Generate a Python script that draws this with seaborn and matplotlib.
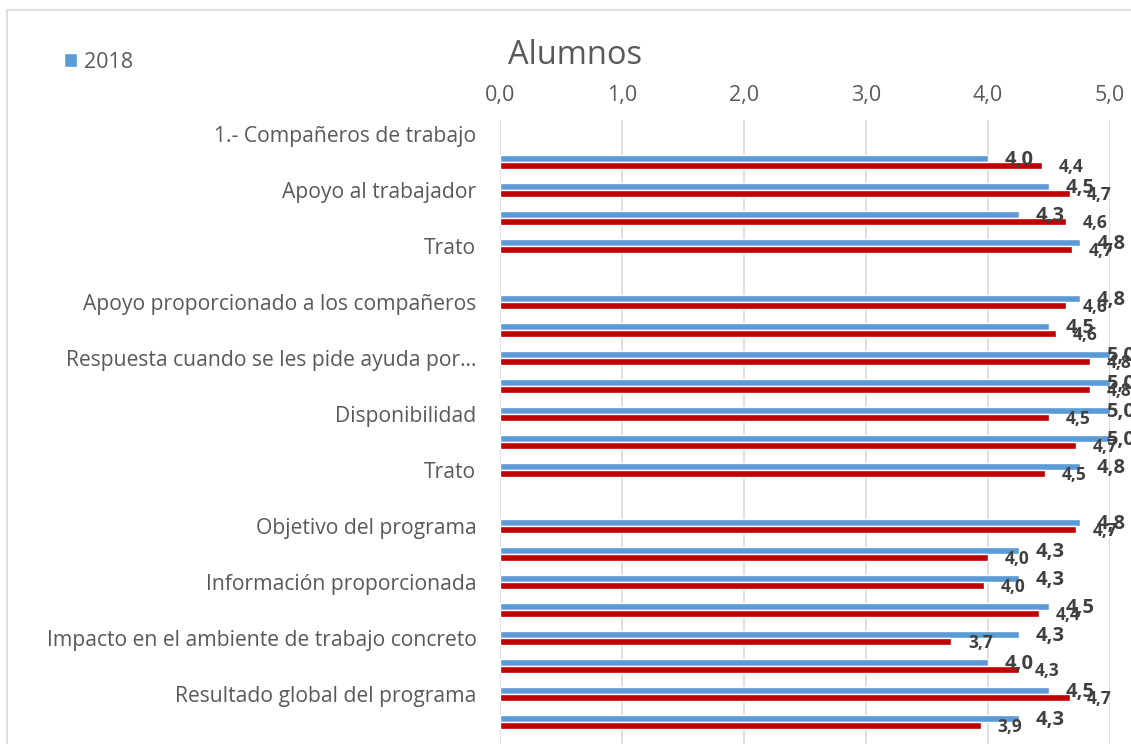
import numpy as np
import pandas as pd
import matplotlib
matplotlib.use("Agg")
import matplotlib.pyplot as plt
from matplotlib.patches import Rectangle
from matplotlib.ticker import FuncFormatter
import seaborn as sns

# Datos
categorias = ["1.- Compañeros de trabajo", "", "Apoyo al trabajador", "", "Trato", "",
              "Apoyo proporcionado a los compañeros", "",
              "Respuesta cuando se les pide ayuda por…", "", "Disponibilidad", "",
              "Trato", "", "Objetivo del programa", "", "Información proporcionada", "",
              "Impacto en el ambiente de trabajo concreto", "",
              "Resultado global del programa", ""]
series = ["2018", "2019"]
valores_2018 = [np.nan, 4.00, 4.50, 4.25, 4.75, np.nan, 4.75, 4.50, 5.00, 5.00, 5.00,
                5.00, 4.75, np.nan, 4.75, 4.25, 4.25, 4.50, 4.25, 4.00, 4.50, 4.25]
valores_2019 = [np.nan, 4.44, 4.67, 4.64, 4.69, np.nan, 4.64, 4.56, 4.84, 4.84, 4.50,
                4.72, 4.47, np.nan, 4.72, 4.00, 3.97, 4.42, 3.70, 4.25, 4.67, 3.94]
ticks_x = [0, 1, 2, 3, 4, 5]

claves = [f"{i:02d}" for i in range(len(categorias))]
df = pd.DataFrame({
    "clave": claves * 2,
    "serie": [series[0]] * len(claves) + [series[1]] * len(claves),
    "valor": valores_2018 + valores_2019,
}).dropna()

colores = {"2018": "#5B9BD5", "2019": "#C00000"}

sns.set_style("white")
plt.rcParams["font.family"] = ["Open Sans", "DejaVu Sans"]

fig = plt.figure(figsize=(11.31, 7.44), dpi=100)
ax = fig.add_axes([500 / 1131, 0, 610 / 1131, 624 / 744])

sns.barplot(data=df, x="valor", y="clave", hue="serie", order=claves,
            hue_order=series, palette=colores, orient="h", width=0.52,
            errorbar=None, saturation=1, ax=ax)

ax.set_xlim(0, 5)
ax.set_ylim(21.79, -0.5)
ax.xaxis.tick_top()
ax.set_xticks(ticks_x)
ax.xaxis.set_major_formatter(FuncFormatter(lambda v, p: f"{v:.1f}".replace(".", ",")))
ax.set_yticks(range(len(categorias)))
ax.set_yticklabels(categorias)
ax.tick_params(axis="x", length=0, pad=10, labelsize=15.5, labelcolor="#595959")
ax.tick_params(axis="y", length=0, pad=17, labelsize=15.2, labelcolor="#595959")
ax.set_xlabel("")
ax.set_ylabel("")
ax.grid(axis="x", color="#D9D9D9", linewidth=1.2)
ax.set_axisbelow(True)
for s in ax.spines.values():
    s.set_visible(False)


def etiqueta(v):
    return f"{np.floor(v * 10 + 0.5) / 10:.1f}".replace(".", ",")


# Etiquetas de datos
tamanos = [14.5, 12.5]
etiquetas = []
for cont, tam in zip(ax.containers, tamanos):
    for barra in cont:
        w = barra.get_width()
        if np.isnan(w) or w == 0:
            continue
        yc = barra.get_y() + barra.get_height() / 2
        t = ax.annotate(etiqueta(w), (w, yc), xytext=(12, -1), textcoords="offset points",
                        ha="left", va="center", fontsize=tam, fontweight="bold",
                        color="#404040", annotation_clip=False)
        etiquetas.append(t)

# Como en Excel, las etiquetas que se salen del área del gráfico se desplazan a la izquierda
fig.canvas.draw()
renderer = fig.canvas.get_renderer()
limite = 1135
for t in etiquetas:
    bb = t.get_window_extent(renderer)
    if bb.x1 > limite:
        dx, dy = t.xyann
        t.xyann = (dx - (bb.x1 - limite) * 72 / fig.dpi, dy)

# Leyenda (solo se ve 2018 en la referencia)
handles, labels = ax.get_legend_handles_labels()
ax.legend(handles[:1], labels[:1], loc="center left", bbox_to_anchor=(55 / 1131, 1 - 62 / 744),
          bbox_transform=fig.transFigure, frameon=False, fontsize=15.5, handlelength=0.6,
          handleheight=0.6, handletextpad=0.35, labelcolor="#595959", borderaxespad=0)

fig.text(575 / 1131, 1 - 55 / 744, "Alumnos", ha="center", va="center", fontsize=23.5, color="#595959")

# Borde del área del gráfico
fig.patches.append(Rectangle((7 / 1131, -0.1), 1.2, 1 - 10 / 744 + 0.1, transform=fig.transFigure,
                             fill=False, edgecolor="#D9D9D9", linewidth=1.2))

plt.savefig("out.png", dpi=100)
plt.close()
